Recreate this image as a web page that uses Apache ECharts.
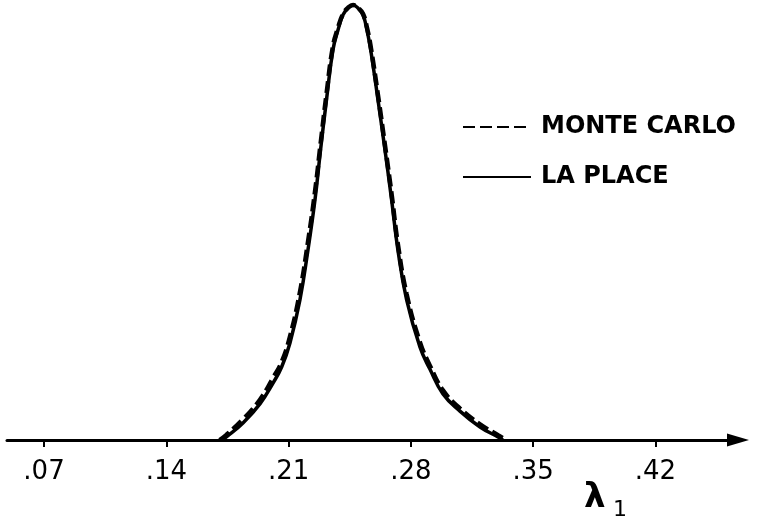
<!DOCTYPE html>
<html>
<head>
<meta charset="utf-8">
<title>Monte Carlo vs La Place</title>
<script src="https://cdn.jsdelivr.net/npm/echarts@6/dist/echarts.min.js"></script>
<style>
  html, body { margin: 0; padding: 0; background: #ffffff; }
  #chart { width: 774px; height: 521px; }
</style>
</head>
<body>
<div id="chart"></div>
<script>
  // values (lambda_1, relative density)
  const lambdaX = [0.1719, 0.1746, 0.1839, 0.1936, 0.2011, 0.2061, 0.2108, 0.2165, 0.2211, 0.2251,
    0.2283, 0.2317, 0.2354, 0.2383, 0.2411, 0.2440, 0.2469, 0.2497, 0.2526, 0.2549,
    0.2572, 0.2612, 0.2652, 0.2690, 0.2726, 0.2776, 0.2852, 0.2909, 0.2984, 0.3081,
    0.3196, 0.3299, 0.3327];
  const laplaceY = [0, 0.15, 0.78, 1.66, 2.62, 3.37, 4.46, 6.44, 8.74, 11.03,
    13.33, 15.63, 17.93, 18.85, 19.54, 19.86, 20.0, 19.86, 19.54, 18.85,
    17.84, 15.63, 13.33, 11.03, 8.74, 6.44, 4.28, 3.26, 2.12, 1.33,
    0.60, 0.14, 0];

  const monteX = [0.1705, 0.1746, 0.1839, 0.1936, 0.2011, 0.2061, 0.2108, 0.2165, 0.2211, 0.2251,
    0.2283, 0.2317, 0.2354, 0.2383, 0.2411, 0.2440, 0.2469, 0.2497, 0.2526, 0.2549,
    0.2572, 0.2612, 0.2652, 0.2690, 0.2726, 0.2776, 0.2852, 0.2909, 0.2984, 0.3081,
    0.3196, 0.3299, 0.3345];
  const monteY = [0, 0.25, 0.95, 1.85, 2.85, 3.6, 4.75, 6.8, 9.1, 11.4,
    13.6, 15.9, 18.1, 18.95, 19.58, 19.87, 20.0, 19.88, 19.6, 18.95,
    18.0, 15.85, 13.55, 11.3, 9.0, 6.7, 4.5, 3.42, 2.28, 1.45,
    0.72, 0.22, 0];

  const tickValues = [0.07, 0.14, 0.21, 0.28, 0.35, 0.42];
  const tickLabels = ['.07', '.14', '.21', '.28', '.35', '.42'];

  const INK = '#000000';
  const FONT = '"DejaVu Sans", sans-serif';

  const chart = echarts.init(document.getElementById('chart'));

  const zip = (xs, ys) => xs.map((x, i) => [x, ys[i]]);

  const option = {
    backgroundColor: '#ffffff',
    animation: false,
    grid: { left: 7, right: 36, top: 5, bottom: 81 },
    legend: {
      orient: 'vertical',
      left: 462,
      top: 115,
      padding: 0,
      itemWidth: 68,
      itemHeight: 14,
      itemGap: 26,
      itemStyle: { opacity: 0 },
      textStyle: {
        color: INK,
        fontFamily: FONT,
        fontWeight: 'bold',
        fontSize: 24,
        padding: [0, 0, 0, 5],
      },
      data: ['MONTE CARLO', 'LA PLACE'],
    },
    xAxis: {
      type: 'value',
      min: 0.0488,
      max: 0.4673,
      splitLine: { show: false },
      axisLine: {
        show: true,
        symbol: ['none', 'triangle'],
        symbolSize: [13, 22],
        lineStyle: { color: INK, width: 3 },
      },
      axisTick: {
        show: true,
        customValues: tickValues,
        length: 7,
        lineStyle: { color: INK, width: 2 },
      },
      axisLabel: {
        customValues: tickValues,
        margin: 19,
        color: INK,
        fontFamily: FONT,
        fontSize: 26,
        formatter: (v) => {
          const i = tickValues.findIndex((t) => Math.abs(t - v) < 1e-6);
          return i >= 0 ? tickLabels[i] : '';
        },
      },
    },
    yAxis: {
      type: 'value',
      min: 0,
      max: 20,
      show: false,
    },
    series: [
      {
        name: 'MONTE CARLO',
        type: 'line',
        data: zip(monteX, monteY),
        symbol: 'none',
        smooth: 0.45,
        clip: false,
        lineStyle: { color: INK, width: 4.5, type: [12, 5] },
        itemStyle: { color: INK },
        z: 2,
      },
      {
        name: 'LA PLACE',
        type: 'line',
        data: zip(lambdaX, laplaceY),
        symbol: 'none',
        smooth: 0.45,
        clip: false,
        lineStyle: { color: INK, width: 3.5 },
        itemStyle: { color: INK },
        z: 3,
      },
    ],
    graphic: [
      {
        type: 'text',
        left: 584,
        top: 481,
        style: { text: 'λ', fill: INK, font: 'bold 34px ' + FONT },
      },
      {
        type: 'text',
        left: 613,
        top: 499,
        style: { text: '1', fill: INK, font: '22px ' + FONT },
      },
    ],
  };

  chart.setOption(option);
</script>
</body>
</html>
